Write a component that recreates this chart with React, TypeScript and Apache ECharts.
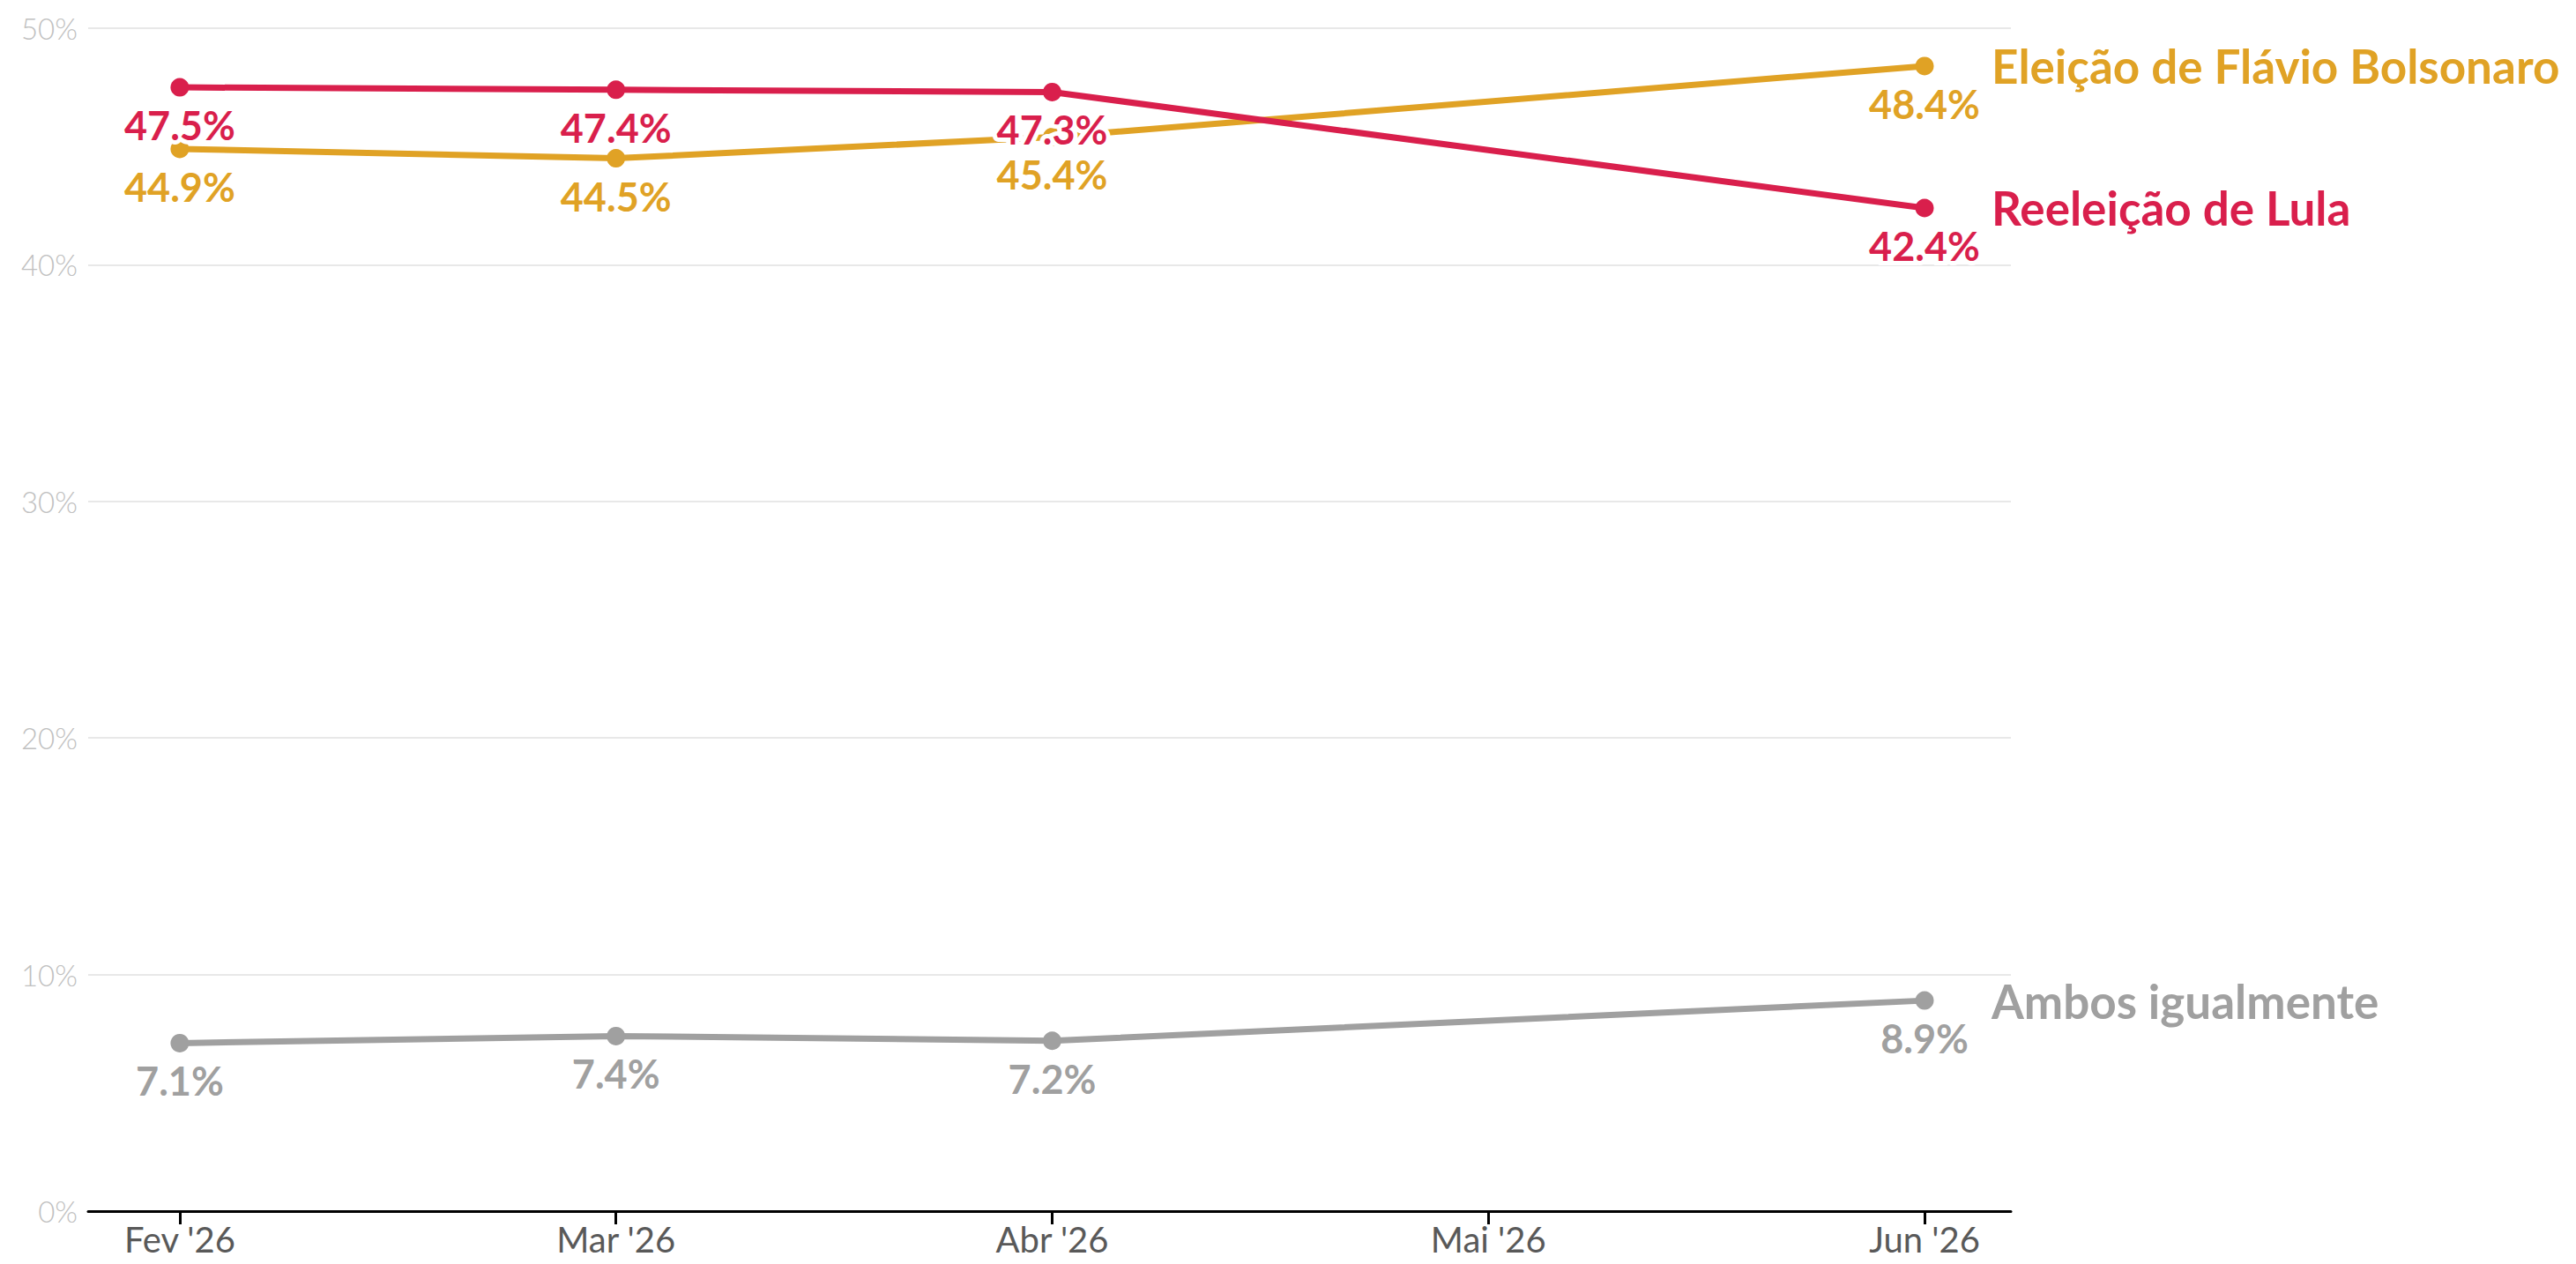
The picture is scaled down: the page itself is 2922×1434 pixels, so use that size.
import React, { useEffect, useRef } from "react";
import * as echarts from "echarts";

const months = ["Fev '26", "Mar '26", "Abr '26", "Mai '26", "Jun '26"];
const surveyMonths = ["Fev '26", "Mar '26", "Abr '26", "Jun '26"];
const flavio = [44.9, 44.5, 45.4, 48.4];
const lula = [47.5, 47.4, 47.3, 42.4];
const ambos = [7.1, 7.4, 7.2, 8.9];
const yTicks = [0, 10, 20, 30, 40, 50];

const seriesDefs = [
  { name: "Eleição de Flávio Bolsonaro", values: flavio, color: "#e0a225", z: 2 },
  { name: "Ambos igualmente", values: ambos, color: "#a0a0a0", z: 2 },
  { name: "Reeleição de Lula", values: lula, color: "#d91f4c", z: 3 },
];

const FONT = "Lato, 'Noto Sans', sans-serif";

export default function App() {
  const ref = useRef<HTMLDivElement>(null);
  useEffect(() => {
    if (!ref.current) return;
    const chart = echarts.init(ref.current, null, { renderer: "svg" });
    const xIdx = surveyMonths.map((m) => months.indexOf(m));
    chart.setOption({
      animation: false,
      backgroundColor: "#ffffff",
      grid: { left: 100, right: 641, top: 32, bottom: 60, containLabel: false },
      xAxis: {
        type: "value",
        min: -0.21,
        max: 4.198,
        splitLine: { show: false },
        axisLine: { show: true, onZero: false, lineStyle: { color: "#000", width: 3 } },
        axisTick: {
          show: true,
          length: 15,
          lineStyle: { color: "#000", width: 3 },
          customValues: months.map((_, i) => i),
        },
        axisLabel: {
          customValues: months.map((_, i) => i),
          formatter: (v: number) => months[Math.round(v)] ?? "",
          color: "#595959",
          fontFamily: FONT,
          fontSize: 40,
          margin: 12,
        },
      },
      yAxis: {
        type: "value",
        min: yTicks[0],
        max: yTicks[yTicks.length - 1],
        interval: 10,
        axisLine: { show: false },
        axisTick: { show: false },
        splitLine: { show: true, lineStyle: { color: "#e8e8e8", width: 2 } },
        axisLabel: {
          formatter: "{value}%",
          color: "#c0c0c0",
          fontFamily: FONT,
          fontWeight: 300,
          fontSize: 33,
          margin: 12,
        },
      },
      series: seriesDefs.map((s) => ({
        type: "line",
        name: s.name,
        z: s.z,
        data: s.values.map((v, i) => [xIdx[i], v]),
        symbol: "circle",
        symbolSize: 21,
        showSymbol: true,
        lineStyle: { color: s.color, width: 7 },
        itemStyle: { color: s.color },
        label: {
          show: true,
          position: "bottom",
          distance: 10,
          formatter: (p: any) => p.value[1].toFixed(1) + "%",
          color: s.color,
          fontFamily: FONT,
          fontWeight: "bold",
          fontSize: 45,
          textBorderColor: "#ffffff",
          textBorderWidth: 10,
        },
        endLabel: {
          show: true,
          formatter: "{a}",
          distance: 76,
          color: s.color,
          fontFamily: FONT,
          fontWeight: "bold",
          fontSize: 53,
        },
        emphasis: { disabled: true },
      })),
    });
    return () => chart.dispose();
  }, []);
  return (
    <div
      ref={ref}
      style={{ position: "fixed", left: 0, top: 0, width: 2922, height: 1434 }}
    />
  );
}
